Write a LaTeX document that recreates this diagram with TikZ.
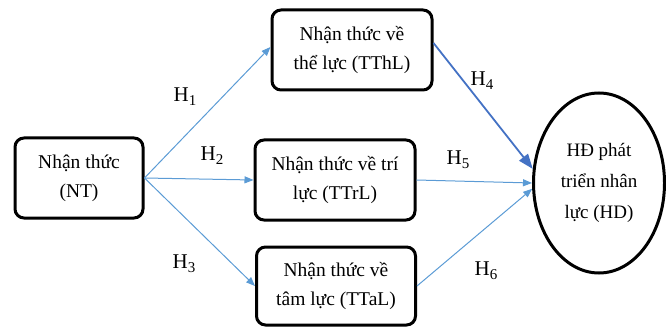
\documentclass[tikz,border=0pt]{standalone}
\usepackage{fontspec}
\setmainfont{Liberation Serif}
\usetikzlibrary{arrows.meta,shapes.geometric}
\definecolor{lblue}{HTML}{5B9BD5}
\definecolor{dblue}{HTML}{4472C4}
\newcommand{\hsub}[1]{H\raisebox{-0.4ex}{\fontsize{15}{15}\selectfont #1}}
\begin{document}
\begin{tikzpicture}[x=1pt,y=-1pt,
  box/.style={draw=black,line width=3pt,rounded corners=9pt,align=center,
    font=\fontsize{19.5}{29}\selectfont},
  oval/.style={draw=black,line width=3pt,ellipse,align=center,
    font=\fontsize{19}{31}\selectfont,inner sep=0pt},
  link/.style={lblue,line width=1pt,-{Triangle[length=9pt,width=7pt]}},
  biglink/.style={dblue,line width=1.8pt,-{Triangle[length=15pt,width=11pt]}},
  hlab/.style={font=\fontsize{21}{21}\selectfont}]
\useasboundingbox (0,0) rectangle (666,331);
\node[box,minimum width=128pt,minimum height=80pt] (NT) at (79,178) {Nhận thức\\(NT)};
\node[box,minimum width=160pt,minimum height=80pt] (TThL) at (352,50) {Nhận thức về\\thể lực (TThL)};
\node[box,minimum width=160pt,minimum height=80pt] (TTrL) at (335,180) {Nhận thức về trí\\lực (TTrL)};
\node[box,minimum width=159pt,minimum height=78pt] (TTaL) at (336,286) {Nhận thức về\\tâm lực (TTaL)};
\node[oval,minimum width=131pt,minimum height=180pt] (HD) at (599,183) {HĐ phát\\triển nhân\\lực (HD)};
\draw[link] (NT.east) -- ([yshift=3pt]TThL.west);
\draw[link] (NT.east) -- (TTrL.west);
\draw[link] (NT.east) -- (TTaL.west);
\draw[biglink] ([yshift=7pt]TThL.east) -- (HD.168);
\draw[link] (TTrL.east) -- (HD.west);
\draw[link] (TTaL.east) -- (HD.185);
\node[hlab] (h1) at (185,97) {\hsub{1}};
\node[hlab] (h2) at (212,156) {\hsub{2}};
\node[hlab] (h3) at (184,264) {\hsub{3}};
\node[hlab] (h4) at (482,81) {\hsub{4}};
\node[hlab] (h5) at (458,160) {\hsub{5}};
\node[hlab] (h6) at (486,271) {\hsub{6}};
\end{tikzpicture}
\end{document}
